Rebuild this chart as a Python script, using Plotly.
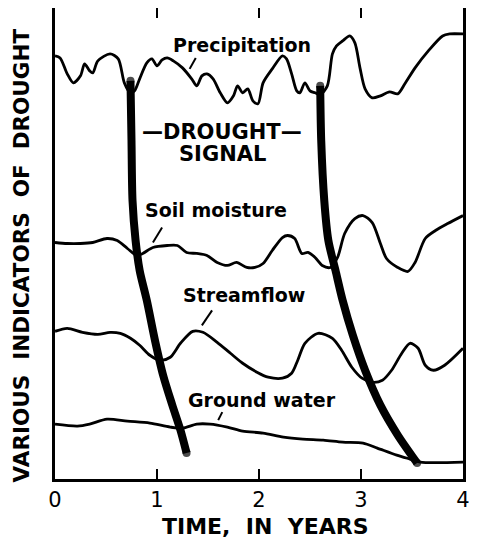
import plotly.graph_objects as go

# Time axis (years) and indicator levels (arbitrary units, 0 = bottom of panel)
precip_t = [0.00, 0.05, 0.12, 0.18, 0.25, 0.29, 0.34, 0.37, 0.42, 0.54, 0.62, 0.68, 0.74, 0.78, 0.83, 0.90,
            0.95, 1.00, 1.05, 1.10, 1.16, 1.25, 1.34, 1.39, 1.44, 1.49, 1.55, 1.62, 1.69, 1.75, 1.79, 1.84,
            1.89, 1.94, 1.99, 2.04, 2.13, 2.23, 2.27, 2.32, 2.37, 2.40, 2.45, 2.50, 2.55, 2.60, 2.67, 2.72,
            2.76, 2.82, 2.89, 2.94, 2.99, 3.04, 3.11, 3.19, 3.28, 3.36, 3.43, 3.53, 3.66, 3.80, 3.87, 4.00]
precip_v = [424, 422, 406, 397, 404, 416, 409, 407, 419, 426, 421, 397, 387, 389, 401, 417,
            421, 414, 420, 422, 419, 412, 401, 394, 404, 406, 401, 387, 377, 384, 394, 387,
            391, 379, 376, 397, 411, 424, 421, 406, 389, 387, 397, 389, 387, 385, 394, 426,
            434, 439, 444, 437, 412, 391, 382, 384, 388, 386, 396, 412, 429, 444, 446, 446]

soil_t = [0.00, 0.12, 0.25, 0.37, 0.51, 0.61, 0.71, 0.80, 0.86, 0.96, 1.10, 1.20, 1.29, 1.39, 1.49, 1.59,
          1.69, 1.78, 1.88, 1.96, 2.04, 2.13, 2.23, 2.28, 2.35, 2.42, 2.48, 2.55, 2.62, 2.70, 2.77, 2.84,
          2.94, 3.02, 3.11, 3.19, 3.25, 3.36, 3.46, 3.53, 3.63, 3.73, 3.85, 4.00]
soil_v = [237, 236, 236, 237, 241, 239, 231, 224, 226, 232, 234, 234, 227, 226, 224, 217,
          214, 217, 212, 212, 216, 229, 242, 244, 241, 226, 227, 222, 214, 212, 222, 246,
          261, 264, 257, 236, 221, 212, 208, 217, 241, 249, 256, 264]

stream_t = [0.00, 0.12, 0.27, 0.42, 0.54, 0.64, 0.74, 0.83, 0.93, 1.03, 1.13, 1.23, 1.35, 1.45, 1.59, 1.72,
            1.84, 1.98, 2.09, 2.23, 2.32, 2.38, 2.45, 2.58, 2.72, 2.81, 2.91, 3.01, 3.11, 3.21, 3.30, 3.40,
            3.48, 3.56, 3.63, 3.71, 3.82, 4.00]
stream_v = [148, 151, 147, 145, 147, 146, 141, 134, 124, 119, 122, 136, 148, 147, 137, 126,
            116, 107, 102, 101, 106, 119, 136, 146, 141, 129, 112, 101, 97, 99, 109, 126,
            136, 131, 114, 109, 114, 131]

ground_t = [0.00, 0.22, 0.34, 0.51, 0.71, 0.93, 1.13, 1.25, 1.39, 1.52, 1.69, 1.84, 2.04, 2.24, 2.43, 2.63,
            2.82, 3.02, 3.16, 3.35, 3.48, 3.58, 4.00]
ground_v = [55, 53, 55, 60, 58, 56, 52, 51, 55, 55, 52, 48, 46, 42, 40, 39,
            37, 36, 31, 24, 20, 17, 17]

signal1_t = [0.74, 0.75, 0.76, 0.79, 0.83, 0.90, 0.98, 1.06, 1.15, 1.23, 1.29]
signal1_v = [399, 339, 279, 239, 209, 179, 139, 104, 74, 49, 26]
signal2_t = [2.60, 2.61, 2.64, 2.68, 2.75, 2.82, 2.92, 3.04, 3.19, 3.36, 3.55]
signal2_v = [394, 339, 279, 239, 209, 179, 144, 109, 74, 44, 16]

x_ticks = [0, 1, 2, 3, 4]
x_tick_labels = ["0", "1", "2", "3", "4"]

FONT = "DejaVu Sans"
fig = go.Figure()

for t, v in [(precip_t, precip_v), (soil_t, soil_v), (stream_t, stream_v), (ground_t, ground_v)]:
    fig.add_trace(go.Scatter(x=t, y=v, mode="lines",
                             line=dict(color="black", width=2.8, shape="spline", smoothing=0.8),
                             hoverinfo="skip", showlegend=False))

for t, v in [(signal1_t, signal1_v), (signal2_t, signal2_v)]:
    sizes = [8] + [0] * (len(t) - 2) + [8]
    fig.add_trace(go.Scatter(x=t, y=v, mode="lines+markers",
                             line=dict(color="black", width=8, shape="spline", smoothing=0.8),
                             marker=dict(size=sizes, color="black", line=dict(width=0)),
                             hoverinfo="skip", showlegend=False))

labels = [
    ("Precipitation", 1.83, 435, 19),
    ("—DROUGHT—", 1.64, 348, 21),
    ("SIGNAL", 1.64, 326, 21),
    ("Soil moisture", 1.58, 270, 19),
    ("Streamflow", 1.85, 184, 19),
    ("Ground water", 2.03, 79, 19),
]
for txt, x, y, s in labels:
    fig.add_annotation(x=x, y=y, text=f"<b>{txt}</b>", showarrow=False, xref="x", yref="y",
                       font=dict(family=FONT, size=s, color="black"))

leaders = [((1.38, 422), (1.32, 411)), ((1.05, 252), (0.96, 237)),
           ((1.54, 169), (1.44, 154)), ((1.64, 67), (1.60, 59))]
for (x0, y0), (x1, y1) in leaders:
    fig.add_shape(type="line", x0=x0, y0=y0, x1=x1, y1=y1, xref="x", yref="y",
                  line=dict(color="black", width=2))

fig.add_annotation(text="<b>TIME,  IN  YEARS</b>", xref="paper", yref="paper", x=0.515, y=-0.1,
                   showarrow=False, xanchor="center", yanchor="middle",
                   font=dict(family=FONT, size=22, color="black"))
fig.add_annotation(text="<b>VARIOUS  INDICATORS  OF  DROUGHT</b>", xref="paper", yref="paper",
                   x=-0.083, y=0.475, textangle=-90, showarrow=False, xanchor="center", yanchor="middle",
                   font=dict(family=FONT, size=21.5, color="black"))

# page body has an 8px default margin, so the figure is sized/margined to compensate
fig.update_layout(
    width=469, height=530,
    margin=dict(l=47, r=14, t=0, b=59, autoexpand=False),
    paper_bgcolor="white", plot_bgcolor="white",
    xaxis=dict(range=[0, 4], tickvals=x_ticks, ticktext=x_tick_labels, ticks="inside", ticklen=10,
               tickwidth=2, tickcolor="black", showline=True, linewidth=3, linecolor="black",
               mirror="ticks", showgrid=False, zeroline=False,
               tickfont=dict(family=FONT, size=21, color="black")),
    yaxis=dict(range=[0, 472], showticklabels=False, ticks="", showline=True, linewidth=3,
               linecolor="black", mirror=True, showgrid=False, zeroline=False),
)

fig.write_html("out.html")
